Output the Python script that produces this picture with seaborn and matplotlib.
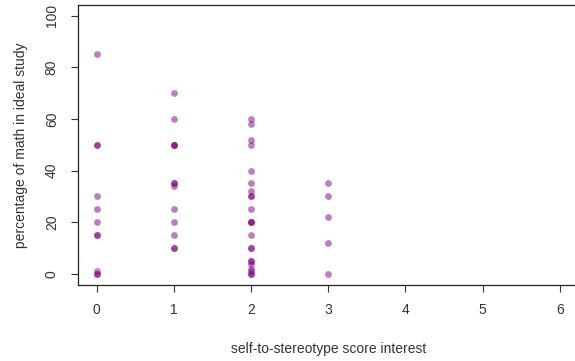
import pandas as pd
import matplotlib.pyplot as plt
import seaborn as sns

# scores and percentages
score_0 = [85, 50, 50, 30, 25, 20, 15, 15, 1, 0, 0]
score_1 = [70, 60, 50, 50, 50, 35, 35, 34, 25, 20, 15, 10, 10]
score_2 = [60, 58, 52, 50, 40, 35, 32, 30, 30, 25, 20, 20, 20, 15,
           10, 10, 5, 5, 4, 2, 1, 0, 0]
score_3 = [35, 30, 22, 12, 0]

x_ticks = [0, 1, 2, 3, 4, 5, 6]
y_ticks = [0, 20, 40, 60, 80, 100]

rows = []
for score, vals in [(0, score_0), (1, score_1), (2, score_2), (3, score_3)]:
    for v in vals:
        rows.append({"score": score, "pct": v})
df = pd.DataFrame(rows)

sns.set_style("ticks")
plt.rcParams["font.family"] = ["Liberation Sans", "DejaVu Sans"]

fig = plt.figure(figsize=(5.75, 3.61), dpi=100)
ax = fig.add_axes([78.3 / 575, 76.5 / 361, 500 / 575, 279.5 / 361])

sns.scatterplot(data=df, x="score", y="pct", color="purple", alpha=0.5,
                s=24, linewidth=0, ax=ax, legend=False)

ax.set_xlim(-0.24, 6.24)
ax.set_ylim(-4.1, 104.1)
ax.set_xticks(x_ticks)
ax.set_yticks(y_ticks)
ax.set_yticklabels([str(t) for t in y_ticks], rotation=90, va="center")

text_color = "#333333"
ax.tick_params(axis="both", length=5, width=0.8, color="#333333",
               labelsize=10, labelcolor=text_color)
ax.tick_params(axis="x", pad=8)
ax.tick_params(axis="y", pad=9)

for side in ["left", "bottom", "top"]:
    ax.spines[side].set_color("#222222")
    ax.spines[side].set_linewidth(0.9)
# the box's right side falls just outside the picture
ax.spines["right"].set_visible(False)

ax.set_xlabel("self-to-stereotype score interest", fontsize=10,
              color=text_color, labelpad=18)
ax.set_ylabel("percentage of math in ideal study", fontsize=10,
              color=text_color, labelpad=12)

fig.savefig("out.png", dpi=100)
